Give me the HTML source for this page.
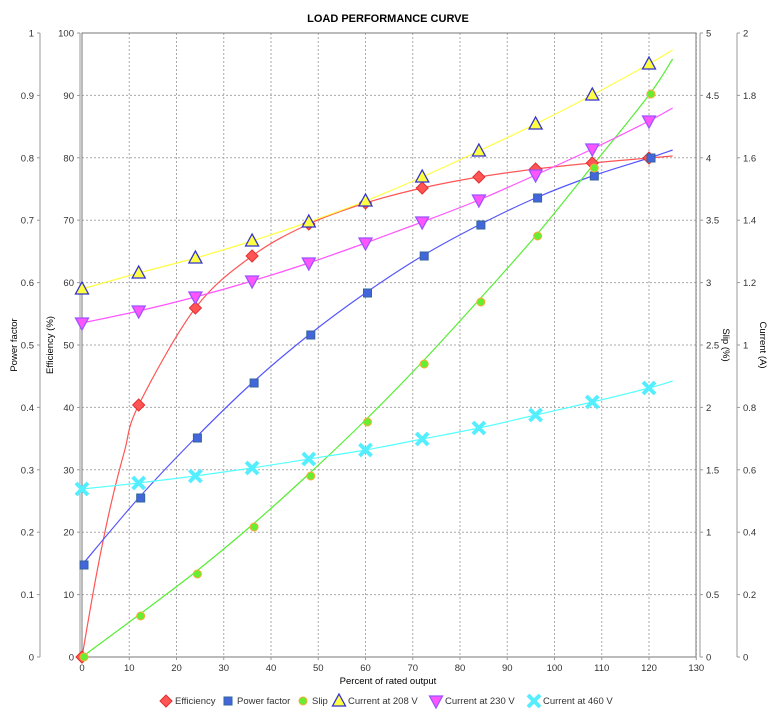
<!DOCTYPE html>
<html><head><meta charset="utf-8"><style>
body{margin:0;background:#fff}
svg{display:block;font-family:"Liberation Sans",sans-serif}
</style></head><body>
<svg id="s" width="775" height="721" xmlns="http://www.w3.org/2000/svg"></svg>
<script>
const s=document.getElementById('s');
let h='';
const X=v=>82+v*4.725, T=657, TOP=33;
h+='<rect width="775" height="721" fill="#fff"/>';
h+='<text x="388" y="22" text-anchor="middle" font-size="11" font-weight="bold">LOAD PERFORMANCE CURVE</text>';
for(let v=10;v<=130;v+=10){h+=`<line x1="${X(v)}" y1="${TOP}" x2="${X(v)}" y2="${T}" stroke="#aaa" stroke-dasharray="2,2"/>`;}
for(let i=1;i<=10;i++){let y=T-i*62.4;h+=`<line x1="82" y1="${y}" x2="696" y2="${y}" stroke="#aaa" stroke-dasharray="2,2"/>`;}
h+=`<rect x="82" y="${TOP}" width="614" height="624" fill="none" stroke="#777"/>`;
const ax=(x,dir,labs)=>{h+=`<line x1="${x}" y1="${TOP}" x2="${x}" y2="${T}" stroke="#999"/>`;
 labs.forEach((l,i)=>{let y=T-i*62.4;h+=`<line x1="${x}" y1="${y}" x2="${x+dir*3}" y2="${y}" stroke="#999"/>`;
 h+=`<text x="${x+dir*6}" y="${y+3.5}" font-size="9.5" text-anchor="${dir<0?'end':'start'}" fill="#333">${l}</text>`;});};
ax(40,-1,['0','0.1','0.2','0.3','0.4','0.5','0.6','0.7','0.8','0.9','1']);
ax(80,-1,['0','10','20','30','40','50','60','70','80','90','100']);
ax(700,1,['0','0.5','1','1.5','2','2.5','3','3.5','4','4.5','5']);
ax(737,1,['0','0.2','0.4','0.6','0.8','1','1.2','1.4','1.6','1.8','2']);
h+=`<line x1="82" y1="${T}" x2="696" y2="${T}" stroke="#777"/>`;
for(let v=0;v<=130;v+=10){h+=`<line x1="${X(v)}" y1="${T}" x2="${X(v)}" y2="${T+3}" stroke="#999"/><text x="${X(v)}" y="${T+14}" font-size="9.5" text-anchor="middle" fill="#333">${v}</text>`;}
h+=`<text x="388" y="684" font-size="9.5" text-anchor="middle">Percent of rated output</text>`;
const rl=(x,y,t)=>h+=`<text transform="translate(${x},${y}) rotate(-90)" font-size="9.5" text-anchor="middle">${t}</text>`;
rl(17,345,'Power factor');rl(53,345,'Efficiency (%)');
h+=`<text transform="translate(723,345) rotate(90)" font-size="9.5" text-anchor="middle">Slip (%)</text>`;
h+=`<text transform="translate(760,345) rotate(90)" font-size="9.5" text-anchor="middle">Current (A)</text>`;
const xs=[0,12,24,36,48,60,72,84,96,108,120].map(X);
const path=(pts)=>{let d=`M${pts[0][0]},${pts[0][1]}`;for(let i=0;i<pts.length-1;i++){let p0=pts[Math.max(0,i-1)],p1=pts[i],p2=pts[i+1],p3=pts[Math.min(pts.length-1,i+2)];
 d+=` C${p1[0]+(p2[0]-p0[0])/6},${p1[1]+(p2[1]-p0[1])/6} ${p2[0]-(p3[0]-p1[0])/6},${p2[1]-(p3[1]-p1[1])/6} ${p2[0]},${p2[1]}`;}return d;};
const series=[
 {c:'#ff5555',ys:[657,405,308,256,224,203,188,177,169,163,158],e:156,m:'d',pre:[[X(0),657],[X(3),576],[X(6),507],[X(9),451]]},
 {c:'#5555ff',ys:[565,498,438,383,335,293,256,225,198,176,158],e:150,m:'s'},
 {c:'#55ee33',ys:[657,616,574,527,476,422,364,302,236,168,94],e:59,m:'c',lys:[657,615,572,525,474,420,362,300,236,166,95]},
 {c:'#ffff55',ys:[289,273,258,241,222,201,177,151,124,95,64],e:50,m:'u',lc:'#ffff44'},
 {c:'#ff55ff',ys:[323,311,297,281,263,243,222,200,175,149,121],e:108,m:'v'},
 {c:'#55ffff',ys:[489,483,476,468,459,450,439,428,415,402,388],e:381,m:'x'}];
series.forEach(S=>{let ly=S.lys||S.ys;let pts=xs.map((x,i)=>[x,ly[i]]);
 if(S.pre){pts=S.pre.concat(pts.slice(1));}
 pts.push([X(125),S.e]);
 h+=`<path d="${path(pts)}" fill="none" stroke="${S.lc||S.c}" stroke-width="1.2"/>`;});
const mk=(m,x,y,c)=>{
 if(m=='d')return `<polygon points="${x},${y-6} ${x+6},${y} ${x},${y+6} ${x-6},${y}" fill="${c}" stroke="#e03030"/>`;
 if(m=='s')return `<rect x="${x-4}" y="${y-4}" width="8" height="8" fill="#4466dd" stroke="#336699"/>`;
 if(m=='c')return `<circle cx="${x}" cy="${y}" r="4" fill="#66ee33" stroke="#ffaa33"/>`;
 if(m=='u')return `<polygon points="${x},${y-7} ${x+6.5},${y+5} ${x-6.5},${y+5}" fill="#ffff44" stroke="#3333cc" stroke-width="1.3"/>`;
 if(m=='v')return `<polygon points="${x-6.5},${y-5} ${x+6.5},${y-5} ${x},${y+7}" fill="#ff55ff" stroke="#9955ff" stroke-width="1.3"/>`;
 if(m=='x')return `<g stroke="#55eeff" stroke-width="4"><line x1="${x-6}" y1="${y-6}" x2="${x+6}" y2="${y+6}"/><line x1="${x-6}" y1="${y+6}" x2="${x+6}" y2="${y-6}"/></g>`;};
series.forEach(S=>xs.forEach((x,i)=>h+=mk(S.m,x+(S.m=='s'||S.m=='c'?2:0),S.ys[i],S.c)));
const L=[['d','Efficiency',166],['s','Power factor',228],['c','Slip',303],['u','Current at 208 V',339],['v','Current at 230 V',436],['x','Current at 460 V',534]];
L.forEach(([m,t,x])=>{h+=mk(m,x,701,'#ff5555');h+=`<text x="${x+9}" y="704" font-size="9.5" fill="#333">${t}</text>`;});
s.innerHTML=h;
</script>
</body></html>
